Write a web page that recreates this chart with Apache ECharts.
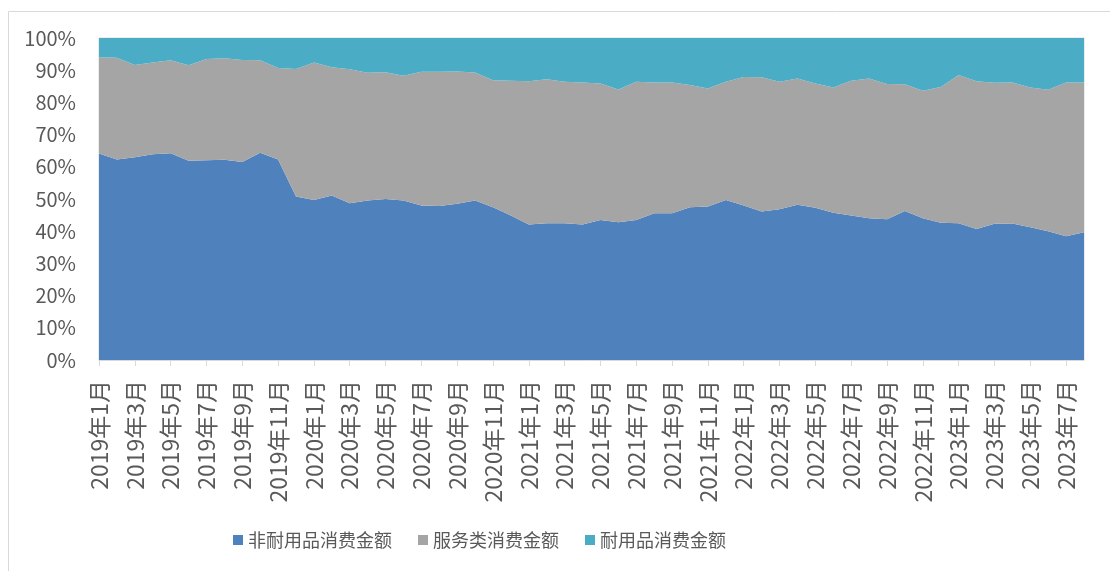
<!DOCTYPE html>
<html>
<head>
<meta charset="utf-8">
<script src="https://cdn.jsdelivr.net/npm/echarts@6/dist/echarts.min.js"></script>
<style>
html,body{margin:0;padding:0;background:#fff;}
#c{width:1110px;height:571px;}
</style>
</head>
<body>
<div id="c"></div>
<script>
var categories = [
 '2019年1月','2019年2月','2019年3月','2019年4月','2019年5月','2019年6月','2019年7月','2019年8月','2019年9月','2019年10月','2019年11月','2019年12月',
 '2020年1月','2020年2月','2020年3月','2020年4月','2020年5月','2020年6月','2020年7月','2020年8月','2020年9月','2020年10月','2020年11月','2020年12月',
 '2021年1月','2021年2月','2021年3月','2021年4月','2021年5月','2021年6月','2021年7月','2021年8月','2021年9月','2021年10月','2021年11月','2021年12月',
 '2022年1月','2022年2月','2022年3月','2022年4月','2022年5月','2022年6月','2022年7月','2022年8月','2022年9月','2022年10月','2022年11月','2022年12月',
 '2023年1月','2023年2月','2023年3月','2023年4月','2023年5月','2023年6月','2023年7月','2023年8月'
];
// shares (%)
var nonDurable = [64.1,62.3,63.0,63.9,64.2,61.9,62.0,62.2,61.5,64.4,62.3,50.8,
 49.7,51.1,48.7,49.5,50.0,49.5,48.0,47.8,48.5,49.5,47.4,44.9,
 42.1,42.5,42.5,42.1,43.5,42.8,43.5,45.6,45.6,47.4,47.7,49.7,
 48.0,46.1,46.8,48.2,47.3,45.7,44.9,44.0,43.7,46.3,44.0,42.6,
 42.5,40.7,42.3,42.4,41.2,40.0,38.4,39.7];
var services = [29.9,31.6,28.6,28.5,28.9,29.6,31.5,31.5,31.7,28.7,28.4,39.6,
 42.7,39.8,41.6,39.7,39.4,38.8,41.5,41.7,41.1,39.8,39.5,41.8,
 44.5,44.7,43.9,44.1,42.4,41.2,42.9,40.6,40.6,38.0,36.6,36.7,
 39.9,41.7,39.6,39.2,38.6,38.9,41.8,43.4,42.0,39.3,39.6,42.2,
 46.0,45.9,43.8,43.8,43.4,43.9,47.8,46.5];
var durable = [6.0,6.1,8.4,7.6,6.9,8.5,6.5,6.3,6.8,6.9,9.3,9.6,
 7.6,9.1,9.7,10.8,10.6,11.7,10.5,10.5,10.4,10.7,13.1,13.3,
 13.4,12.8,13.6,13.8,14.1,16.0,13.6,13.8,13.8,14.6,15.7,13.6,
 12.1,12.2,13.6,12.6,14.1,15.4,13.3,12.6,14.3,14.4,16.4,15.2,
 11.5,13.4,13.9,13.8,15.4,16.1,13.8,13.8];
var seriesNames = ['非耐用品消费金额','服务类消费金额','耐用品消费金额'];
var colors = ['#4F81BD','#A5A5A5','#4BACC6'];
var yTicks = {min:0, max:100, interval:10};

var font = '"Noto Sans CJK SC", "Noto Sans", sans-serif';
var chart = echarts.init(document.getElementById('c'), null, {renderer:'canvas'});
function areaSeries(name, data, color){
  return {
    name: name, type: 'line', stack: 'total', data: data,
    symbol: 'none', smooth: false,
    lineStyle: {width: 0, color: color},
    itemStyle: {color: color},
    areaStyle: {color: color, opacity: 1},
    emphasis: {disabled: true}
  };
}
chart.setOption({
  animation: false,
  color: colors,
  graphic: [{
    type: 'rect', left: 6, top: 9, z: -1,
    shape: {width: 1200, height: 700},
    style: {fill: 'none', stroke: '#d9d9d9', lineWidth: 1}
  }],
  grid: {left: 99, right: 26, top: 38, bottom: 211, show: true, borderColor: '#d9d9d9', borderWidth: 1, backgroundColor: 'transparent'},
  legend: {
    data: seriesNames, left: 228, top: 526, icon: 'rect',
    itemWidth: 10, itemHeight: 10, itemGap: 26,
    textStyle: {fontFamily: font, fontSize: 18, color: '#595959'}
  },
  xAxis: {
    type: 'category', data: categories, boundaryGap: false,
    axisLine: {show: true, lineStyle: {color: '#d9d9d9', width: 1}},
    axisTick: {show: true, interval: 1, length: 6, lineStyle: {color: '#d9d9d9'}},
    axisLabel: {interval: 1, rotate: 90, margin: 20, fontFamily: font, fontSize: 23, color: '#595959'},
    splitLine: {show: false}
  },
  yAxis: {
    type: 'value', min: yTicks.min, max: yTicks.max, interval: yTicks.interval,
    axisLine: {show: false}, axisTick: {show: false}, splitLine: {show: false},
    axisLabel: {formatter: '{value}%', margin: 23, fontFamily: font, fontSize: 20, color: '#595959'}
  },
  series: [
    areaSeries(seriesNames[0], nonDurable, colors[0]),
    areaSeries(seriesNames[1], services, colors[1]),
    areaSeries(seriesNames[2], durable, colors[2])
  ]
});
</script>
</body>
</html>
